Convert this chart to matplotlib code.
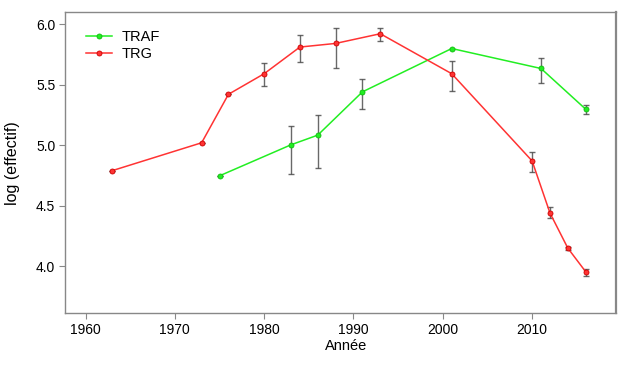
import numpy as np
import matplotlib
matplotlib.use("Agg")
import matplotlib.pyplot as plt

# --- Data ---
trg_years = [1963, 1973, 1976, 1980, 1984, 1988, 1993, 2001, 2010, 2012, 2014, 2016]
trg_vals = [4.79, 5.02, 5.42, 5.59, 5.81, 5.84, 5.92, 5.59, 4.87, 4.44, 4.15, 3.955]
trg_lo = [4.79, 5.02, 5.42, 5.485, 5.685, 5.64, 5.856, 5.445, 4.78, 4.40, 4.135, 3.92]
trg_hi = [4.79, 5.02, 5.42, 5.68, 5.91, 5.97, 5.97, 5.693, 4.94, 4.487, 4.163, 3.98]

traf_years = [1975, 1983, 1986, 1991, 2001, 2011, 2016]
traf_vals = [4.747, 5.003, 5.083, 5.44, 5.798, 5.633, 5.297]
traf_lo = [4.747, 4.76, 4.81, 5.30, 5.798, 5.517, 5.26]
traf_hi = [4.747, 5.157, 5.25, 5.545, 5.798, 5.72, 5.33]

x_ticks = [1960, 1970, 1980, 1990, 2000, 2010]
y_ticks = [4.0, 4.5, 5.0, 5.5, 6.0]

plt.rcParams['font.family'] = ['Liberation Sans', 'DejaVu Sans']

fig = plt.figure(figsize=(6.28, 3.68), dpi=100)
ax = fig.add_axes([0.1035, 0.1486, 0.8775, 0.818])

def draw_series(years, vals, lo, hi, color, edge, label):
    vals = np.array(vals)
    yerr = [vals - np.array(lo), np.array(hi) - vals]
    ax.errorbar(years, vals, yerr=yerr, fmt='none', ecolor='#444444',
                elinewidth=1.0, capsize=2.5, capthick=1.0, alpha=0.8, zorder=2)
    ax.plot(years, vals, color=color, lw=1.1, marker='o', markersize=3.6,
            markerfacecolor=color, markeredgecolor=edge, markeredgewidth=0.6,
            label=label, zorder=3)

draw_series(traf_years, traf_vals, traf_lo, traf_hi, '#22ee22', '#11bb11', 'TRAF')
draw_series(trg_years, trg_vals, trg_lo, trg_hi, '#ff3333', '#cc0000', 'TRG')

ax.set_xlim(1957.7, 2019.4)
ax.set_ylim(3.612, 6.097)
ax.set_xticks(x_ticks)
ax.set_yticks(y_ticks)
ax.set_yticklabels([f"{v:.1f}" for v in y_ticks])
ax.tick_params(direction='out', length=4, color='#888888', labelsize=10, pad=3)

for name, sp in ax.spines.items():
    sp.set_color('#888888')
    sp.set_linewidth(1.0)
ax.spines['right'].set_linewidth(1.6)

ax.set_xlabel('Année', fontsize=10.5, labelpad=2)
ax.xaxis.set_label_coords(0.51, -0.085)
ax.set_ylabel('log (effectif)', fontsize=11.5)
ax.yaxis.set_label_coords(-0.082, 0.5)

ax.legend(loc='upper left', frameon=False, fontsize=10.5, handlelength=1.8,
          handletextpad=0.6, borderaxespad=0.3, labelspacing=0.2,
          bbox_to_anchor=(0.02, 0.975))

fig.savefig('out.png', dpi=100)
